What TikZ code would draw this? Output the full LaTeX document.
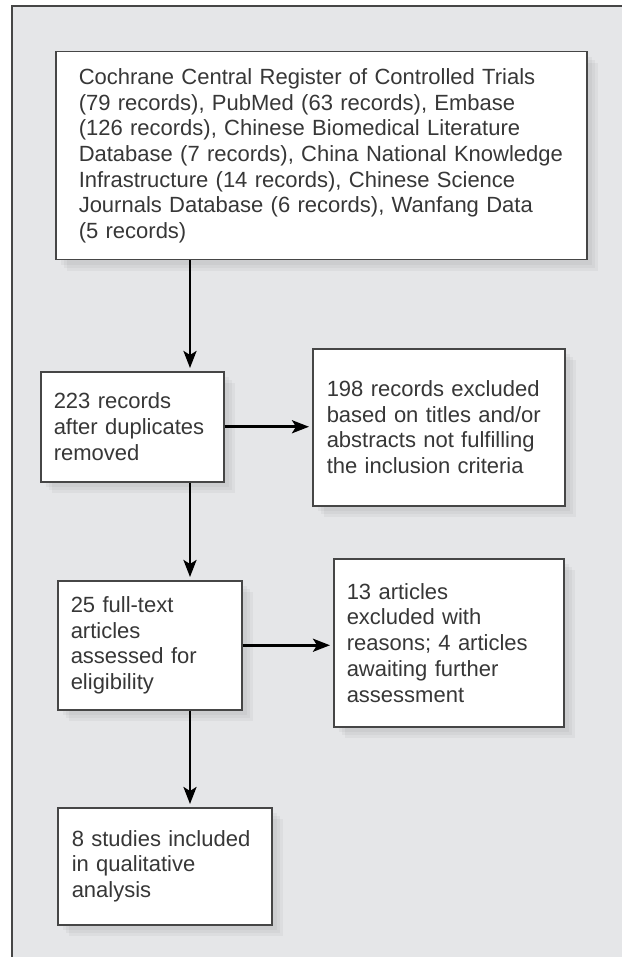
\documentclass[tikz,border=0pt]{standalone}
\usepackage{fontspec}
\setmainfont{Liberation Sans}
\usetikzlibrary{arrows.meta,positioning,calc,shadows}
\definecolor{panelgray}{RGB}{229,230,232}
\definecolor{edgegray}{RGB}{70,70,70}
\definecolor{inkgray}{RGB}{55,55,55}
\newcommand{\flowfont}{\fontsize{22}{25.7}\selectfont\hyphenpenalty=10000\relax}
\tikzset{
    softshade/.style={
        drop shadow={shadow xshift=11pt, shadow yshift=-11pt, opacity=0.035, fill=black},
        drop shadow={shadow xshift=8pt, shadow yshift=-8pt, opacity=0.035, fill=black},
        drop shadow={shadow xshift=5pt, shadow yshift=-5pt, opacity=0.035, fill=black}},
    flowbox/.style={draw=edgegray, line width=1.5pt, fill=white, anchor=north west,
        align=left, inner ysep=0pt, text=inkgray, font=\flowfont, softshade},
    flowarrow/.style={line width=2.8pt, black, -{Stealth[length=17pt,width=13pt,inset=4pt]}, shorten >=3pt}
}

\begin{document}
\begin{tikzpicture}[x=1pt, y=-1pt]
    \useasboundingbox (0,0) rectangle (622,957);

    % Panel
    \fill[white] (0,0) rectangle (622,957);
    \fill[panelgray] (12,6) rectangle (622,957);
    \draw[edgegray, line width=1.5pt] (12,957) -- (12,6) -- (622,6);

    % Search sources
    \node[flowbox, minimum width=531pt, minimum height=208pt, text width=485pt, inner xsep=23pt] (records) at (55,51)
        {Cochrane Central Register of Controlled Trials\\
         (79 records), PubMed (63 records), Embase\\
         (126 records), Chinese Biomedical Literature\\
         Database (7 records), China National Knowledge\\
         Infrastructure (14 records), Chinese Science\\
         Journals Database (6 records), Wanfang Data\\
         (5 records)};

    % Screening
    \node[flowbox, minimum width=183pt, minimum height=110pt, text width=157pt, inner xsep=13pt] (dedup) at (40,371)
        {223 records\\ after duplicates\\ removed};
    \node[flowbox, minimum width=252pt, minimum height=157pt, text width=224pt, inner xsep=14pt] (excltitle) at (312,348)
        {198 records excluded\\ based on titles and/or\\ abstracts not fulfilling\\ the inclusion criteria};

    % Eligibility
    \node[flowbox, minimum width=184pt, minimum height=129pt, text width=158pt, inner xsep=13pt] (fulltext) at (57,580)
        {25 full-text\\ articles\\ assessed for\\ eligibility};
    \node[flowbox, minimum width=230pt, minimum height=168pt, text width=204pt, inner xsep=13pt] (exclfull) at (333,558)
        {13 articles\\ excluded with\\ reasons; 4 articles\\ awaiting further\\ assessment};

    % Included
    \node[flowbox, minimum width=214pt, minimum height=117pt, text width=186pt, inner xsep=14pt] (included) at (57,807)
        {8 studies included\\ in qualitative\\ analysis};

    % Arrows
    \coordinate (spine) at (190,0);
    \draw[flowarrow] (records.south -| spine) -- (dedup.north -| spine);
    \draw[flowarrow] (dedup.east) -- (dedup.east -| excltitle.west);
    \draw[flowarrow] (dedup.south -| spine) -- (fulltext.north -| spine);
    \draw[flowarrow] (fulltext.east) -- (fulltext.east -| exclfull.west);
    \draw[flowarrow] (fulltext.south -| spine) -- (included.north -| spine);
\end{tikzpicture}
\end{document}
